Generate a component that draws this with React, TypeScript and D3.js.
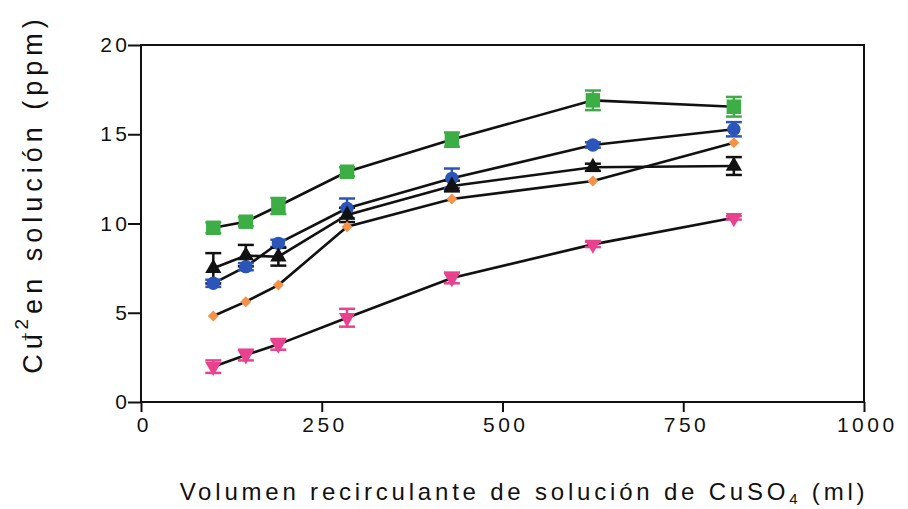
import { useEffect, useRef } from 'react'
import * as d3 from 'd3'

// volumen recirculante (ml)
const volumes = [100, 145, 190, 285, 430, 625, 820]

const greenSquares = [9.76, 10.1, 10.98, 12.9, 14.7, 16.9, 16.54]
const greenErr = [0.3, 0.25, 0.45, 0.25, 0.4, 0.55, 0.55]

const blueCircles = [6.65, 7.58, 8.89, 10.85, 12.53, 14.4, 15.28]
const blueErr = [0.2, 0.2, 0.2, 0.55, 0.55, 0.15, 0.4]

const blackTriangles = [7.49, 8.2, 8.14, 10.48, 12.1, 13.15, 13.22]
const blackErr = [0.85, 0.6, 0.5, 0.4, 0.3, 0.2, 0.5]

const orangeDiamonds = [4.82, 5.62, 6.55, 9.82, 11.37, 12.38, 14.53]
const orangeErr = [0, 0, 0, 0, 0, 0, 0]

const pinkTriangles = [1.98, 2.63, 3.23, 4.72, 6.95, 8.83, 10.32]
const pinkErr = [0.35, 0.3, 0.3, 0.5, 0.3, 0.15, 0.1]

const xTicks = [0, 250, 500, 750, 1000]
const yTicks = [0, 5, 10, 15, 20]

const series = [
  { values: greenSquares, err: greenErr, color: '#3dae45', shape: 'square' },
  { values: blueCircles, err: blueErr, color: '#2b55b8', shape: 'circle' },
  { values: blackTriangles, err: blackErr, color: '#111111', shape: 'triangle' },
  { values: orangeDiamonds, err: orangeErr, color: '#f59148', shape: 'diamond' },
  { values: pinkTriangles, err: pinkErr, color: '#e8428f', shape: 'down' },
]

function App() {
  const svgRef = useRef(null)

  useEffect(() => {
    const width = 908
    const height = 509
    const margin = { left: 141, top: 45, right: 44, bottom: 107 }
    const chartWidth = width - margin.left - margin.right
    const chartHeight = height - margin.top - margin.bottom

    d3.select(svgRef.current).selectAll('*').remove()
    const svg = d3.select(svgRef.current)
      .attr('width', width)
      .attr('height', height)

    const g = svg.append('g')
      .attr('transform', `translate(${margin.left},${margin.top})`)

    const x = d3.scaleLinear().domain([0, 1000]).range([0, chartWidth])
    const y = d3.scaleLinear().domain([0, 20]).range([chartHeight, 0])

    const font = 'Liberation Sans, Arial, sans-serif'
    const tickSpacing = 3.5

    // Frame
    g.append('rect')
      .attr('x', 0).attr('y', 0)
      .attr('width', chartWidth).attr('height', chartHeight)
      .attr('fill', 'none')
      .attr('stroke', '#111')
      .attr('stroke-width', 2)

    // Axes
    const xAxis = g.append('g')
      .attr('transform', `translate(0,${chartHeight})`)
      .call(d3.axisBottom(x).tickValues(xTicks).tickSize(10).tickPadding(5).tickFormat(d3.format('d')))
    const yAxis = g.append('g')
      .call(d3.axisLeft(y).tickValues(yTicks).tickSize(13).tickPadding(0).tickFormat(d3.format('d')))

    ;[xAxis, yAxis].forEach(ax => {
      ax.select('.domain').remove()
      ax.selectAll('line').attr('stroke', '#111').attr('stroke-width', 2)
      ax.selectAll('text')
        .attr('fill', '#111')
        .style('font-family', font)
        .style('font-size', '21px')
        .style('letter-spacing', `${tickSpacing}px`)
    })
    xAxis.selectAll('text').attr('dx', tickSpacing / 2 + 1)
    yAxis.selectAll('text').attr('dx', tickSpacing - 1)

    const line = d3.line()
      .x((d, i) => x(volumes[i]))
      .y(d => y(d))

    // Lines
    series.forEach(s => {
      g.append('path')
        .datum(s.values)
        .attr('fill', 'none')
        .attr('stroke', '#111')
        .attr('stroke-width', 2.6)
        .attr('d', line)
    })

    // Error bars
    series.forEach(s => {
      s.values.forEach((v, i) => {
        const e = s.err[i]
        if (!e) return
        const cx = x(volumes[i])
        const eg = g.append('g').attr('stroke', s.color).attr('stroke-width', 2.5)
        eg.append('line').attr('x1', cx).attr('x2', cx).attr('y1', y(v - e)).attr('y2', y(v + e))
        eg.append('line').attr('x1', cx - 8).attr('x2', cx + 8).attr('y1', y(v + e)).attr('y2', y(v + e))
        eg.append('line').attr('x1', cx - 8).attr('x2', cx + 8).attr('y1', y(v - e)).attr('y2', y(v - e))
      })
    })

    // Markers
    const symbols = {
      square: { type: d3.symbolSquare, size: 210, rot: 0 },
      circle: { type: d3.symbolCircle, size: 140, rot: 0 },
      triangle: { type: d3.symbolTriangle, size: 115, rot: 0 },
      diamond: { type: d3.symbolSquare, size: 60, rot: 45 },
      down: { type: d3.symbolTriangle, size: 115, rot: 180 },
    }
    series.forEach(s => {
      const sym = symbols[s.shape]
      g.selectAll(null)
        .data(s.values)
        .enter().append('path')
        .attr('d', d3.symbol().type(sym.type).size(sym.size))
        .attr('transform', (d, i) => `translate(${x(volumes[i])},${y(d)}) rotate(${sym.rot})`)
        .attr('fill', s.color)
    })

    // Axis titles
    svg.append('text')
      .attr('x', 524)
      .attr('y', 500)
      .attr('text-anchor', 'middle')
      .style('font-family', font)
      .style('font-size', '24px')
      .style('letter-spacing', '3.8px')
      .attr('fill', '#111')
      .call(t => {
        t.append('tspan').text('Volumen recirculante de solución de CuSO')
        t.append('tspan').attr('dy', 4).style('font-size', '15px').text('4')
        t.append('tspan').attr('dy', -4).text(' (ml)')
      })

    svg.append('text')
      .attr('transform', `translate(42,194) rotate(-90)`)
      .attr('text-anchor', 'middle')
      .style('font-family', font)
      .style('font-size', '27px')
      .style('letter-spacing', '5px')
      .attr('fill', '#111')
      .call(t => {
        t.append('tspan').text('Cu')
        t.append('tspan').attr('dx', -12).attr('dy', -12).style('font-size', '15px').text('+')
        t.append('tspan').attr('dx', -2).attr('dy', -2).style('font-size', '19px').text('2')
        t.append('tspan').attr('dy', 14).text('en solución (ppm)')
      })
  }, [])

  return (
    <div style={{ position: 'absolute', left: 0, top: 0, width: 908, height: 509, background: '#fff' }}>
      <svg ref={svgRef}></svg>
    </div>
  )
}

export default App
